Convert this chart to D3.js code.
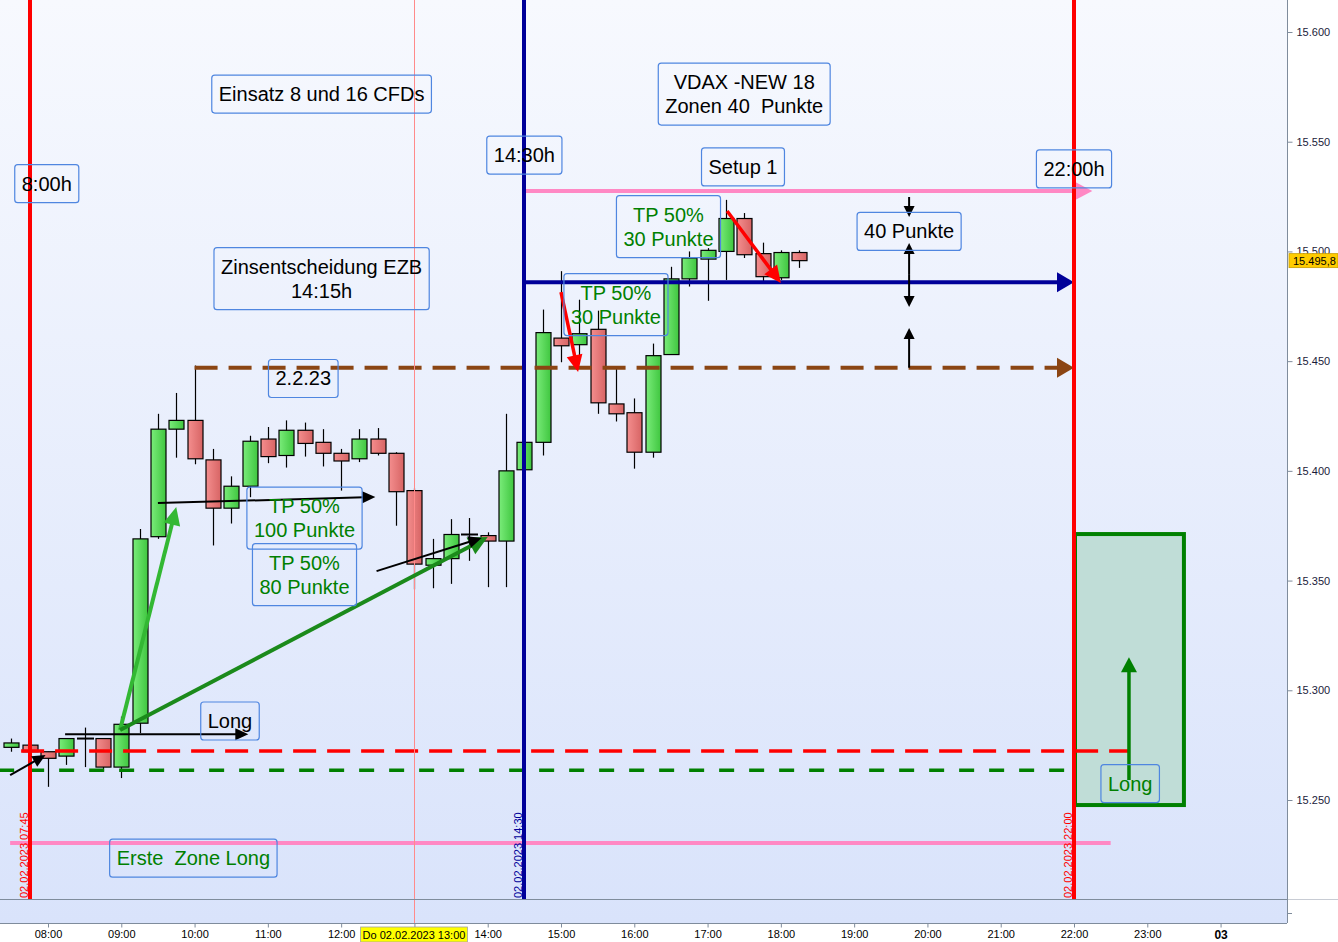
<!DOCTYPE html>
<html><head><meta charset="utf-8">
<script src="https://cdn.jsdelivr.net/npm/d3@7"></script>
<style>
body{margin:0;background:#fff;}
svg{display:block;font-family:"Liberation Sans",Arial,sans-serif;}
</style>
</head><body>
<svg id="c" width="1338" height="942"></svg>
<script>
// ---------- DATA ----------
const candleTimes = ["07:30","07:45","08:00","08:15","08:30","08:45","09:00","09:15","09:30","09:45","10:00","10:15","10:30","10:45","11:00","11:15","11:30","11:45","12:00","12:15","12:30","12:45","13:00","13:15","13:30","13:45","14:00","14:15","14:30","14:45","15:00","15:15","15:30","15:45","16:00","16:15","16:30","16:45","17:00","17:15","17:30","17:45","18:00","18:15"];
const openVals  = [15274,15275,15272,15270,15278,15278,15265,15285,15370,15419,15423,15405,15383,15393,15414.5,15407,15418.5,15413,15408,15405.5,15414.5,15408,15391,15357,15360,15371,15370.5,15368,15400.5,15413,15460.5,15457.5,15464.5,15430.5,15426.5,15408.5,15453,15487.5,15496.5,15500,15515,15499,15488,15499.5];
const highVals  = [15278,15276,15272,15278,15283,15278,15288,15373.5,15426,15435.5,15448,15410,15397.5,15416,15420,15423,15422,15419,15410,15419,15419.5,15408.5,15392,15369,15378,15378.5,15372,15426,15414,15473.5,15491,15478,15473,15447,15433,15458,15493,15500,15501.5,15523.5,15517.5,15504,15500.5,15500.5];
const lowVals   = [15272,15271,15256,15266,15265,15263,15260,15280.5,15369,15406,15403,15366,15376,15388,15403.5,15401.5,15406.5,15402,15391,15404,15407,15375,15346,15346.5,15348.5,15359,15347,15347,15398,15407,15449.5,15452,15426,15422.5,15401,15406,15453,15484,15477.5,15487,15497,15486,15487,15492.5];
const closeVals = [15276,15272,15269,15278,15278,15265,15284.5,15369,15419,15423,15405.5,15383,15393,15413.5,15406.5,15418.5,15412.5,15408,15404.5,15414.5,15408,15390.5,15357.5,15360,15371,15371,15368,15400,15413,15463,15457,15462.5,15431,15426,15408.5,15452.5,15487.5,15497,15500.5,15515,15498.5,15488.5,15499.5,15495.8];

const priceTicks = [15250,15300,15350,15400,15450,15500,15550,15600];
const hourLabels = ["08:00","09:00","10:00","11:00","12:00","","14:00","15:00","16:00","17:00","18:00","19:00","20:00","21:00","22:00","23:00","03"];
const cursorLabel = "Do 02.02.2023 13:00";
const cursorTime = "13:00";
const lastPrice = 15495.8;
const lastPriceLabel = "15.495,8";

// horizontal levels
const levelNames  = ["pinkTop","blue","brown","redDash","greenDash","pinkBottom"];
const levelPrices = [15527.5,15486,15447,15272.3,15263.6,15230.4];
const levelStart  = ["14:30","14:30","10:00","07:38","07:20","07:29"];
const levelEnd    = ["22:15","22:00","22:00","22:45","21:57","22:30"];

// vertical lines
const vlineTimes  = ["07:45","13:00","14:30","22:00"];
const vlineLabels = ["02.02.2023 07:45","","02.02.2023 14:30","02.02.2023 22:00"];

// zone
const zoneTimes  = ["22:00","23:30"];
const zonePrices = [15371.2,15247.7];

// annotation boxes
const noteTexts  = [["8:00h"],["Einsatz 8 und 16 CFDs"],["Zinsentscheidung EZB","14:15h"],["2.2.23"],["14:30h"],["VDAX -NEW 18","Zonen 40  Punkte"],["Setup 1"],["22:00h"],["TP 50%","30 Punkte"],["TP 50%","30 Punkte"],["40 Punkte"],["TP 50%","100 Punkte"],["TP 50%","80 Punkte"],["Long"],["Erste  Zone Long"],["Long"]];
const noteTimes  = ["07:59","11:44","11:44","11:29","14:30","17:30","17:29","22:00","16:28","15:45","19:45","11:30","11:30","10:29","09:59","22:46"];
const notePrices = [15530.9,15571.7,15487.6,15442.1,15543.9,15571.7,15538.5,15537.6,15511.3,15475.8,15509.1,15378.5,15352.7,15286,15223.5,15257.5];
const noteGreen  = [0,0,0,0,0,0,0,0,1,1,0,1,1,0,1,1];

// arrows
const arrowFromTime  = ["07:29","08:14","08:59","08:59","09:30","12:29","15:00","17:16","19:45","19:45","19:45","19:45","22:45"];
const arrowFromPrice = [15261.3,15280,15281.9,15281.9,15385.3,15354.3,15481.5,15518.4,15524.8,15489.3,15489.3,15447,15259.1];
const arrowToTime    = ["07:58","10:44","09:45","14:00","12:28","13:55","15:14","18:00","19:45","19:45","19:45","19:45","22:45"];
const arrowToPrice   = [15270.5,15280,15383.5,15369.8,15388.1,15369.4,15445,15485.6,15515.7,15503.8,15474.7,15465.1,15315.1];
const arrowKinds     = ["black","black","lightgreen","darkgreen","black","black","red","red","smallblack","smallblack","smallblack","smallblack","green"];

// ---------- DRAW ----------
const svg = d3.select("#c");
const W = 1338, H = 942, axisX = 1287, paneBottom = 899, axisY = 923;
const parse = d3.timeParse("%H:%M");
const x = d3.scaleTime().domain([parse("08:00"), parse("22:00")]).range([48, 1074]);
const y = d3.scaleLinear().domain([15250, 15600]).range([800, 32]);

const defs = svg.append("defs");
const bg = defs.append("linearGradient").attr("id","bg").attr("x1",0).attr("y1",0).attr("x2",0).attr("y2",1);
bg.append("stop").attr("offset","0%").attr("stop-color","#f7f9fe");
bg.append("stop").attr("offset","100%").attr("stop-color","#d9e3fb");
const gr = defs.append("linearGradient").attr("id","gRed").attr("x1",0).attr("y1",0).attr("x2",1).attr("y2",0);
gr.append("stop").attr("offset","0%").attr("stop-color","#f48e8e");
gr.append("stop").attr("offset","100%").attr("stop-color","#d76464");
const gg = defs.append("linearGradient").attr("id","gGreen").attr("x1",0).attr("y1",0).attr("x2",1).attr("y2",0);
gg.append("stop").attr("offset","0%").attr("stop-color","#7aec7a");
gg.append("stop").attr("offset","100%").attr("stop-color","#3fc63f");
defs.append("clipPath").attr("id","plotClip").append("rect").attr("x",0).attr("y",0).attr("width",axisX).attr("height",paneBottom);

svg.append("rect").attr("width",W).attr("height",H).attr("fill","#ffffff");
svg.append("rect").attr("x",0).attr("y",0).attr("width",axisX).attr("height",axisY).attr("fill","url(#bg)");

const plot = svg.append("g").attr("clip-path","url(#plotClip)");

// candles
const candles = candleTimes.map((t,i)=>({t:parse(t),o:openVals[i],h:highVals[i],l:lowVals[i],c:closeVals[i]}));
const cx = d => Math.round(x(d.t)) + 0.5;
plot.append("g").selectAll("line").data(candles).join("line")
  .attr("x1",cx).attr("x2",cx).attr("y1",d=>y(d.h)).attr("y2",d=>y(d.l))
  .attr("stroke","#000").attr("stroke-width",1.2);
const bodies = candles.filter(d=>Math.abs(d.o-d.c)>=0.4);
plot.append("g").selectAll("rect").data(bodies).join("rect")
  .attr("x",d=>cx(d)-7.5).attr("width",15)
  .attr("y",d=>y(Math.max(d.o,d.c))).attr("height",d=>Math.max(1,Math.abs(y(d.o)-y(d.c))))
  .attr("fill",d=>d.c>=d.o?"url(#gGreen)":"url(#gRed)")
  .attr("stroke","#000").attr("stroke-width",1.2);
plot.append("g").selectAll("line").data(candles.filter(d=>Math.abs(d.o-d.c)<0.4)).join("line")
  .attr("x1",d=>cx(d)-8.5).attr("x2",d=>cx(d)+8.5).attr("y1",d=>y(d.c)).attr("y2",d=>y(d.c))
  .attr("stroke","#000").attr("stroke-width",2);

// zone
plot.append("rect")
  .attr("x",x(parse(zoneTimes[0]))+1).attr("width",x(parse(zoneTimes[1]))-x(parse(zoneTimes[0]))-1)
  .attr("y",y(zonePrices[0])).attr("height",y(zonePrices[1])-y(zonePrices[0]))
  .attr("fill","#c0ddd7").attr("stroke","#008000").attr("stroke-width",4);

// levels
const levelStyle = {
  pinkTop:{color:"#ff88c4",w:4,dash:null,head:[19,20]},
  blue:{color:"#000099",w:4,dash:null,head:[17,20]},
  brown:{color:"#8b4513",w:4,dash:"23,11",head:[17,20]},
  redDash:{color:"#ff0000",w:3.5,dash:"23,11",head:null},
  greenDash:{color:"#008000",w:3.5,dash:"15,15",head:null},
  pinkBottom:{color:"#ff88c4",w:4,dash:null,head:null}
};
const lg = plot.append("g");
levelNames.forEach((n,i)=>{
  const s = levelStyle[n];
  const yy = y(levelPrices[i]);
  const x1 = x(parse(levelStart[i])), x2 = x(parse(levelEnd[i]));
  const xe = s.head ? x2 - s.head[0] + 2 : x2;
  const ln = lg.append("line").attr("x1",x1).attr("x2",xe).attr("y1",yy).attr("y2",yy)
    .attr("stroke",s.color).attr("stroke-width",s.w);
  if (s.dash) ln.attr("stroke-dasharray",s.dash);
  if (s.head) {
    lg.append("path").attr("d",`M${x2},${yy}L${x2-s.head[0]},${yy-s.head[1]/2}L${x2-s.head[0]},${yy+s.head[1]/2}Z`).attr("fill",s.color);
  }
});

// vertical lines
const vStyle = {"07:45":{c:"#ff0000",w:4,b:paneBottom},"13:00":{c:"#ff8a8a",w:1,b:axisY},"14:30":{c:"#000099",w:4,b:paneBottom},"22:00":{c:"#ff0000",w:4,b:paneBottom}};
vlineTimes.forEach((t,i)=>{
  const s = vStyle[t];
  const xx = Math.round(x(parse(t))) + (s.w===1?0.5:0);
  svg.append("line").attr("x1",xx).attr("x2",xx).attr("y1",0).attr("y2",s.b)
    .attr("stroke",s.c).attr("stroke-width",s.w);
  if (vlineLabels[i]) {
    svg.append("text").attr("transform",`translate(${xx-2},${paneBottom-1}) rotate(-90)`)
      .attr("font-size",11).attr("fill",s.c).text(vlineLabels[i]);
  }
});

// arrows
const arrowStyle = {
  black:{c:"#000",w:2,hl:13,hw:12},
  lightgreen:{c:"#33b833",w:4,hl:18,hw:17},
  darkgreen:{c:"#1b8a1b",w:4,hl:19,hw:19},
  red:{c:"#ff0000",w:3.5,hl:17,hw:16},
  smallblack:{c:"#000",w:2,hl:11,hw:11},
  green:{c:"#008000",w:3.5,hl:15,hw:16}
};
const ag = svg.append("g");
function drawArrow(x1,y1,x2,y2,s){
  const dx=x2-x1, dy=y2-y1, len=Math.hypot(dx,dy), ux=dx/len, uy=dy/len;
  const bx=x2-ux*s.hl, by=y2-uy*s.hl;
  ag.append("line").attr("x1",x1).attr("y1",y1).attr("x2",bx+ux*2).attr("y2",by+uy*2)
    .attr("stroke",s.c).attr("stroke-width",s.w);
  ag.append("path").attr("d",`M${x2},${y2}L${bx-uy*s.hw/2},${by+ux*s.hw/2}L${bx+uy*s.hw/2},${by-ux*s.hw/2}Z`).attr("fill",s.c);
}
arrowKinds.forEach((k,i)=>{
  drawArrow(x(parse(arrowFromTime[i])),y(arrowFromPrice[i]),x(parse(arrowToTime[i])),y(arrowToPrice[i]),arrowStyle[k]);
});

// notes
const ng = svg.append("g");
noteTexts.forEach((lines,i)=>{
  const g = ng.append("g");
  const ncx = x(parse(noteTimes[i])), ncy = y(notePrices[i]);
  const lh = 24;
  const rect = g.append("rect");
  const t = g.append("text").attr("text-anchor","middle").attr("font-size",20)
    .attr("fill",noteGreen[i]?"#008000":"#000").style("white-space","pre");
  lines.forEach((l,j)=>{
    t.append("tspan").attr("x",ncx).attr("y",ncy - (lines.length-1)*lh/2 + j*lh + 7).text(l);
  });
  const bb = t.node().getBBox();
  const bw = bb.width + 14, bh = lines.length===1 ? 38 : 62;
  rect.attr("x",ncx-bw/2).attr("y",ncy-bh/2).attr("width",bw).attr("height",bh)
    .attr("rx",3).attr("fill","none").attr("stroke","#4f86e0").attr("stroke-width",1.2);
});

// pane borders
svg.append("line").attr("x1",0).attr("x2",axisX).attr("y1",paneBottom+0.5).attr("y2",paneBottom+0.5).attr("stroke","#7f8c9c");
svg.append("line").attr("x1",axisX).attr("x2",W).attr("y1",paneBottom+0.5).attr("y2",paneBottom+0.5).attr("stroke","#c8ccd4");
svg.append("line").attr("x1",0).attr("x2",axisX).attr("y1",axisY+0.5).attr("y2",axisY+0.5).attr("stroke","#7f8c9c");
svg.append("line").attr("x1",axisX+0.5).attr("x2",axisX+0.5).attr("y1",0).attr("y2",axisY).attr("stroke","#7f8c9c");

// right axis
const yAxis = d3.axisRight(y).tickValues(priceTicks).tickSize(5).tickPadding(4)
  .tickFormat(v=>d3.format(",")(v).replace(/,/g,"."));
const ya = svg.append("g").attr("transform",`translate(${axisX+0.5},0)`).call(yAxis);
ya.select(".domain").remove();
ya.selectAll("line").attr("stroke","#7f8c9c");
ya.selectAll("text").attr("font-size",11).attr("fill","#1a1a3a").attr("font-family","'Liberation Sans',Arial,sans-serif");
svg.append("line").attr("x1",axisX).attr("x2",axisX+5).attr("y1",913.5).attr("y2",913.5).attr("stroke","#7f8c9c");

// last price tag
const ly = y(lastPrice);
svg.append("rect").attr("x",axisX+2).attr("y",ly-7).attr("width",W-axisX-2).attr("height",14)
  .attr("fill","#ffcc00").attr("stroke","#c79c00").attr("stroke-width",0.8);
svg.append("text").attr("x",axisX+6).attr("y",ly+4).attr("font-size",11).attr("fill","#000").text(lastPriceLabel);

// bottom axis
const tickDates = hourLabels.map((_,i)=>d3.timeHour.offset(parse("08:00"),i));
const xAxis = d3.axisBottom(x).tickValues(tickDates).tickSize(4).tickPadding(3)
  .tickFormat((d,i)=>hourLabels[i]);
const xa = svg.append("g").attr("transform",`translate(0,${axisY+0.5})`).call(xAxis);
xa.select(".domain").remove();
xa.selectAll("line").attr("stroke","#7f8c9c");
xa.selectAll("text").attr("fill","#000").attr("font-family","'Liberation Sans',Arial,sans-serif")
  .attr("font-weight",(d,i)=>hourLabels[i]==="03"?"bold":"normal")
  .attr("font-size",(d,i)=>hourLabels[i]==="03"?12:11);

// cursor label
const ccx = Math.round(x(parse(cursorTime)));
const cg = svg.append("g");
const crect = cg.append("rect");
const ct = cg.append("text").attr("x",ccx).attr("y",939).attr("text-anchor","middle").attr("font-size",11).attr("fill","#000").text(cursorLabel);
const cb = ct.node().getBBox();
crect.attr("x",cb.x-2).attr("y",927).attr("width",cb.width+4).attr("height",15)
  .attr("fill","#ffff00").attr("stroke","#a0a0a0").attr("stroke-width",0.8);
</script>
</body></html>
